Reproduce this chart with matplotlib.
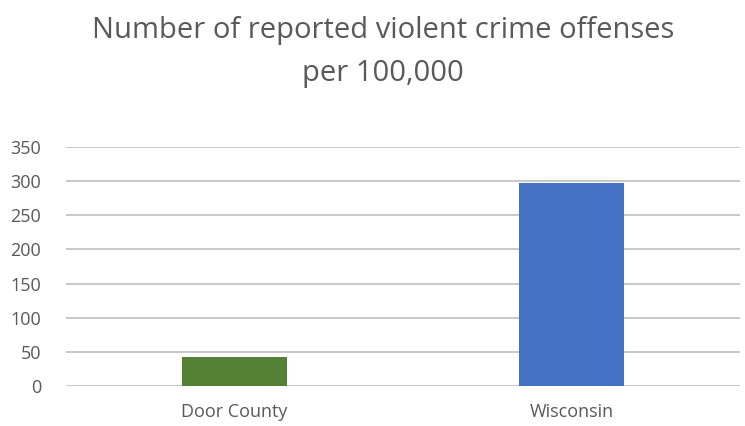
import matplotlib
matplotlib.use("Agg")
import matplotlib.pyplot as plt

categories = ["Door County", "Wisconsin"]
values = [42.5, 298]
colors = ["#548235", "#4472C4"]
yticks = [0, 50, 100, 150, 200, 250, 300, 350]
title = "Number of reported violent crime offenses\nper 100,000"

plt.rcParams['font.family'] = ['Open Sans', 'DejaVu Sans']
fig = plt.figure(figsize=(7.45, 4.26), dpi=100)
ax = fig.add_axes([66/745, 1-386/426, (740-66)/745, (386-147)/426])
x = list(range(len(categories)))
ax.bar(x, values, width=0.31, color=colors, zorder=3)
ax.set_xlim(-0.5, len(categories)-0.5)
ax.set_ylim(0, 350)
ax.set_yticks(yticks)
ax.set_xticks(x)
ax.set_xticklabels(categories)
ax.grid(axis='y', color='#BFBFBF', linewidth=1.2, zorder=0)
ax.set_axisbelow(True)
for s in ax.spines.values():
    s.set_visible(False)
ax.tick_params(axis='both', length=0, labelsize=13, labelcolor='#595959')
ax.tick_params(axis='y', pad=18)
ax.tick_params(axis='x', pad=12)
fig.text(383/745, 1-52/426, title, ha='center', va='center', fontsize=21,
         color='#595959', linespacing=1.6)
fig.savefig("out.png", dpi=100)
